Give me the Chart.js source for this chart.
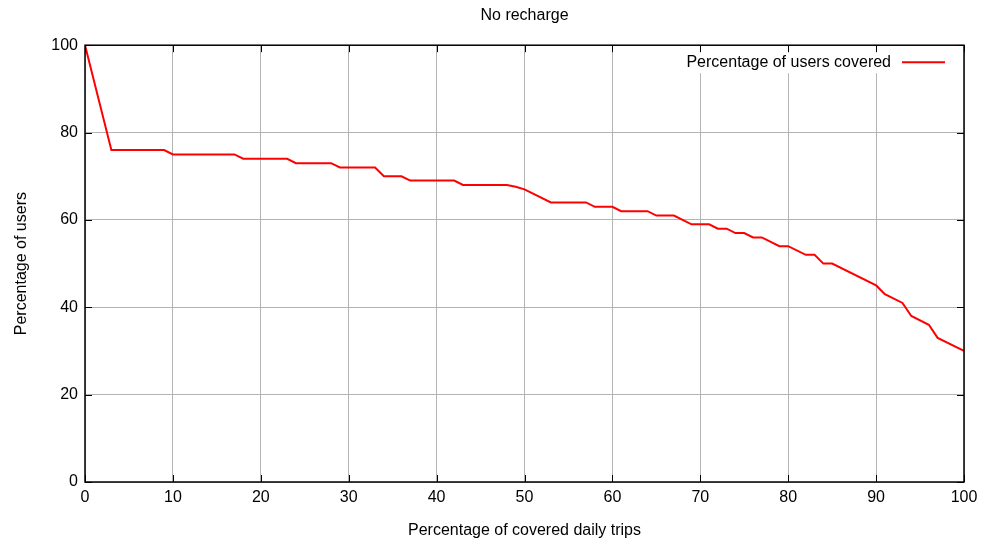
<!DOCTYPE html>
<html>
<head>
<meta charset="utf-8">
<script src="https://cdn.jsdelivr.net/npm/chart.js@4/dist/chart.umd.min.js"></script>
<style>
  html, body { margin: 0; padding: 0; background: #ffffff; }
  #wrap { width: 981px; height: 540px; }
</style>
</head>
<body>
<div id="wrap"><canvas id="c" width="981" height="540"></canvas></div>
<script>
const chartTitle = "No recharge";
const seriesLabel = "Percentage of users covered";
const xAxisTitle = "Percentage of covered daily trips";
const yAxisTitle = "Percentage of users";

const tripsCovered = [0,3,9,10,17,18,23,24,28,29,33,34,36,37,42,43,48,49,50,53,57,58,60,61,64,65,67,69,71,72,73,74,75,76,77,79,80,82,83,84,85,90,91,93,94,96,97,100];
const usersCovered = [100,76,76,75,75,74,74,73,73,72,72,70,70,69,69,68,68,67.6,67,64,64,63,63,62,62,61,61,59,59,58,58,57,57,56,56,54,54,52,52,50,50,45,43,41,38,36,33,30];

const xTicks = [0,10,20,30,40,50,60,70,80,90,100];
const yTicks = [0,20,40,60,80,100];

const FONT = "'Liberation Sans', Arial, Helvetica, sans-serif";
const FS = 16;

const points = tripsCovered.map((x, i) => ({ x: x, y: usersCovered[i] }));

const framePlugin = {
  id: 'frame',
  beforeDatasetsDraw(chart) {
    const ctx = chart.ctx;
    const a = chart.chartArea;
    ctx.save();
    ctx.font = FS + "px " + FONT;
    const w = ctx.measureText(chart.data.datasets[0].label).width;
    ctx.fillStyle = '#ffffff';
    ctx.fillRect(a.right - 73 - w - 8, a.top + 4, w + 8 + 73 - 3, 24);
    ctx.restore();
  },
  afterDatasetsDraw(chart) {
    const ctx = chart.ctx;
    const a = chart.chartArea;
    const xs = chart.scales.x, ys = chart.scales.y;
    ctx.save();
    ctx.strokeStyle = '#000000';
    ctx.lineWidth = 1;
    const tl = 7;
    ctx.beginPath();
    yTicks.forEach(v => {
      const py = Math.round(ys.getPixelForValue(v)) + 0.5;
      ctx.moveTo(a.left, py); ctx.lineTo(a.left + tl, py);
      ctx.moveTo(a.right, py); ctx.lineTo(a.right - tl, py);
    });
    xTicks.forEach(v => {
      const px = Math.round(xs.getPixelForValue(v)) + 0.5;
      ctx.moveTo(px, a.bottom); ctx.lineTo(px, a.bottom - tl);
      ctx.moveTo(px, a.top); ctx.lineTo(px, a.top + tl);
    });
    ctx.stroke();
    ctx.lineWidth = 1.5;
    ctx.strokeRect(a.left, a.top, a.right - a.left, a.bottom - a.top);
    const ds = chart.data.datasets[0];
    const ly = a.top + 17;
    ctx.font = FS + "px " + FONT;
    ctx.fillStyle = '#000000';
    ctx.textAlign = 'right';
    ctx.textBaseline = 'middle';
    ctx.fillText(ds.label, a.right - 73, ly);
    ctx.strokeStyle = ds.borderColor;
    ctx.lineWidth = 2;
    ctx.beginPath();
    ctx.moveTo(a.right - 62, ly);
    ctx.lineTo(a.right - 19, ly);
    ctx.stroke();
    ctx.restore();
  }
};

new Chart(document.getElementById('c'), {
  type: 'line',
  data: {
    datasets: [{
      label: seriesLabel,
      data: points,
      borderColor: '#ff0000',
      backgroundColor: '#ff0000',
      borderWidth: 2,
      pointRadius: 0,
      tension: 0,
      fill: false
    }]
  },
  options: {
    responsive: false,
    animation: false,
    devicePixelRatio: 1,
    layout: { padding: { left: 0, right: 17, top: 0, bottom: 0 } },
    plugins: {
      legend: { display: false },
      tooltip: { enabled: false },
      title: {
        display: true,
        text: chartTitle,
        fullSize: false,
        color: '#000000',
        font: { family: FONT, size: FS, weight: 'normal' },
        padding: { top: 6, bottom: 20 }
      }
    },
    scales: {
      x: {
        type: 'linear',
        min: 0, max: 100,
        afterFit(scale) { scale.height = 58; scale.paddingLeft = 0; scale.paddingRight = 0; },
        afterBuildTicks(scale) { scale.ticks = xTicks.map(v => ({ value: v })); },
        grid: { color: '#b4b4b4', lineWidth: 1, drawTicks: false },
        border: { display: false },
        ticks: { color: '#000000', font: { family: FONT, size: FS }, padding: 6, maxRotation: 0 },
        title: { display: true, text: xAxisTitle, color: '#000000', font: { family: FONT, size: FS }, padding: { top: 2, bottom: 0 } }
      },
      y: {
        type: 'linear',
        min: 0, max: 100,
        afterFit(scale) { scale.width = 85; scale.paddingTop = 0; scale.paddingBottom = 0; },
        afterBuildTicks(scale) { scale.ticks = yTicks.map(v => ({ value: v })); },
        grid: { color: '#b4b4b4', lineWidth: 1, drawTicks: false },
        border: { display: false },
        ticks: { color: '#000000', font: { family: FONT, size: FS }, padding: 7 },
        title: { display: true, text: yAxisTitle, color: '#000000', font: { family: FONT, size: FS }, padding: { top: 12, bottom: 12 } }
      }
    }
  },
  plugins: [framePlugin]
});
</script>
</body>
</html>
